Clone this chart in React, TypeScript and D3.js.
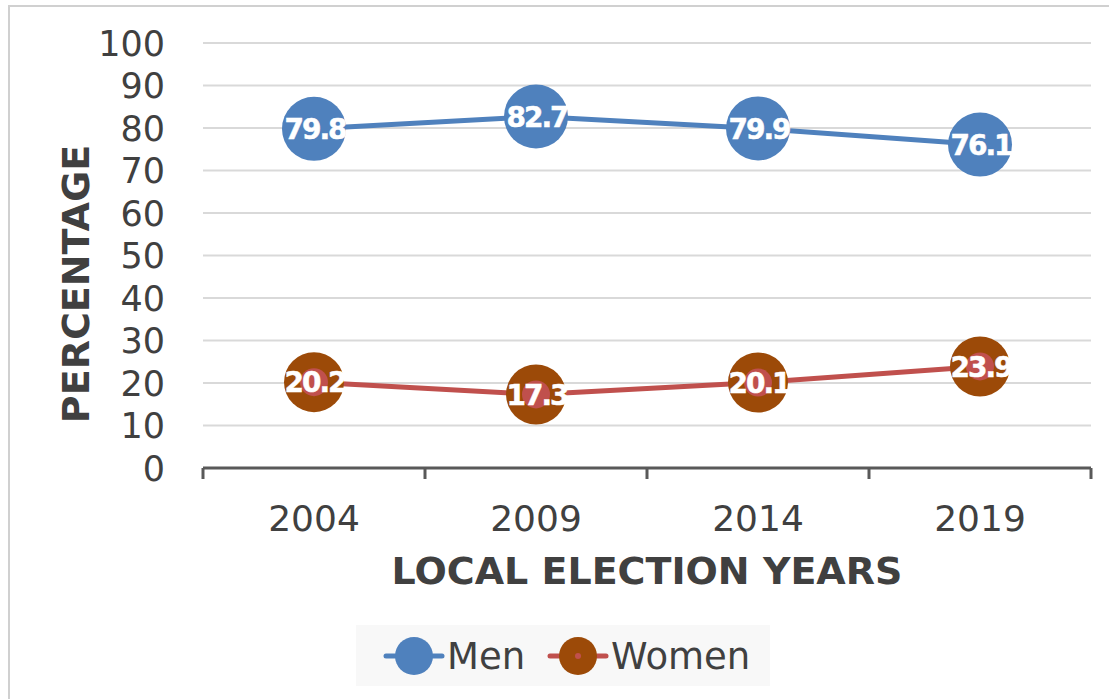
import React from "react";
import * as d3 from "d3";

const years = ["2004", "2009", "2014", "2019"];
const men = [79.8, 82.7, 79.9, 76.1];
const women = [20.2, 17.3, 20.1, 23.9];
const yTicks = [0, 10, 20, 30, 40, 50, 60, 70, 80, 90, 100];

const BLUE = "#4F81BD";
const BROWN = "#9C4A08";
const RED = "#C0504D";
const TEXT = "#404040";
const FONT = "'DejaVu Sans', Verdana, sans-serif";

export default function App() {
  const width = 1109;
  const height = 699;
  const left = 203;
  const right = 1091;
  const top = 43;
  const bottom = 468;

  const x = d3.scaleBand<string>().domain(years).range([left, right]);
  const y = d3.scaleLinear().domain([0, 100]).range([bottom, top]);
  const cx = (yr: string) => (x(yr) ?? 0) + x.bandwidth() / 2;

  const line = d3
    .line<number>()
    .x((_, i) => cx(years[i]))
    .y((d) => y(d));

  const series = [
    { name: "Men", values: men, stroke: BLUE, fill: BLUE, r: 32, inner: 0 },
    { name: "Women", values: women, stroke: RED, fill: BROWN, r: 30, inner: 14 },
  ];

  const tickXs = [...years.map((yr) => x(yr) ?? 0), right];

  return (
    <svg
      width={width}
      height={height}
      style={{ position: "absolute", left: 0, top: 0, background: "#fff" }}
      fontFamily={FONT}
    >
      <rect x={9} y={6} width={1120} height={720} fill="#fff" stroke="#D0D0D0" strokeWidth={2} />

      {/* grid */}
      {yTicks.slice(1).map((t) => (
        <line key={t} x1={left} x2={right} y1={y(t)} y2={y(t)} stroke="#D9D9D9" strokeWidth={2} />
      ))}
      {yTicks.map((t) => (
        <text key={t} x={165} y={y(t)} dy="0.36em" textAnchor="end" fontSize={35} fill={TEXT}>
          {t}
        </text>
      ))}

      {/* x axis */}
      <line x1={left} x2={right} y1={bottom} y2={bottom} stroke="#595959" strokeWidth={3} />
      {tickXs.map((tx, i) => (
        <line key={i} x1={tx} x2={tx} y1={bottom} y2={bottom + 11} stroke="#595959" strokeWidth={3} />
      ))}
      {years.map((yr) => (
        <text key={yr} x={cx(yr)} y={531} textAnchor="middle" fontSize={36} fill={TEXT}>
          {yr}
        </text>
      ))}

      <text x={647} y={584} textAnchor="middle" fontSize={38} fontWeight="bold" fill={TEXT}>
        LOCAL ELECTION YEARS
      </text>
      <text
        transform="translate(89,284) rotate(-90)"
        textAnchor="middle"
        fontSize={38}
        fontWeight="bold"
        fill={TEXT}
      >
        PERCENTAGE
      </text>

      {/* lines */}
      {series.map((s) => (
        <path key={s.name} d={line(s.values) ?? ""} fill="none" stroke={s.stroke} strokeWidth={5} />
      ))}
      {series.map((s) =>
        s.values.map((v, i) => (
          <g key={s.name + i}>
            <circle cx={cx(years[i])} cy={y(v)} r={s.r} fill={s.fill} />
            {s.inner > 0 && <circle cx={cx(years[i])} cy={y(v)} r={s.inner} fill={RED} />}
            <text
              x={cx(years[i]) + 1}
              y={y(v)}
              dy="0.36em"
              textAnchor="middle"
              fontSize={28}
              fontWeight="bold"
              letterSpacing={-2}
              fill="#fff"
              stroke="#fff"
              strokeWidth={0.5}
            >
              {v.toFixed(1)}
            </text>
          </g>
        ))
      )}

      {/* legend */}
      <rect x={356} y={625} width={414} height={61} fill="#F8F8F8" />
      {series.map((s, i) => {
        const lx = i === 0 ? 386 : 550;
        const ly = 656;
        return (
          <g key={s.name}>
            <line x1={lx} x2={lx + 56} y1={ly} y2={ly} stroke={s.stroke} strokeWidth={5} strokeLinecap="round" />
            <circle cx={lx + 28} cy={ly} r={19} fill={s.fill} />
            {s.inner > 0 && <circle cx={lx + 28} cy={ly} r={3} fill={RED} />}
            <text x={lx + 61} y={ly} dy="0.36em" fontSize={37} fill={TEXT}>
              {s.name}
            </text>
          </g>
        );
      })}
    </svg>
  );
}
